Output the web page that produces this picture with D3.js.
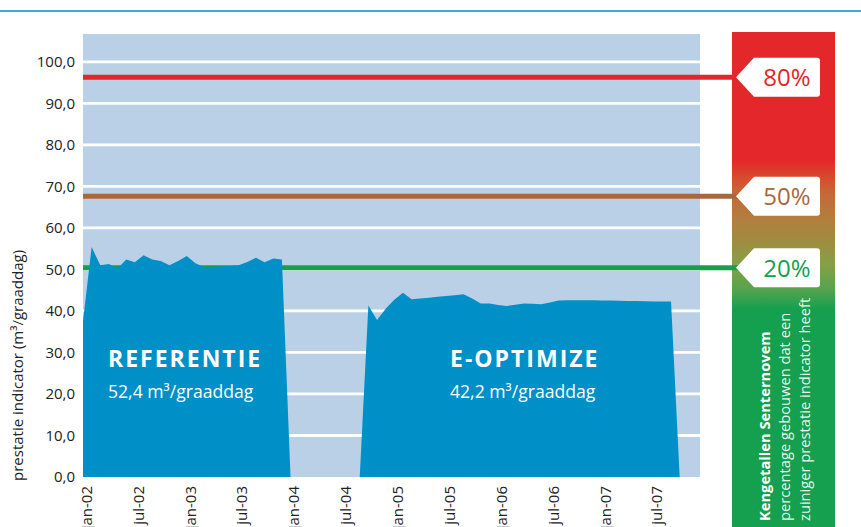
<!DOCTYPE html>
<html>
<head>
<meta charset="utf-8">
<script src="https://cdn.jsdelivr.net/npm/d3@7"></script>
<style>
  body { margin: 0; background: #fff; }
  svg { display: block; font-family: "Open Sans", sans-serif; }
</style>
</head>
<body>
<div id="container"></div>
<script>
const width = 861;
const height = 527;

// plot box
const plotLeft = 83, plotRight = 700, plotTop = 34, plotBottom = 477;

// x tick labels (every 6 months, month index from jan-02)
const tickMonths = [0, 6, 12, 18, 24, 30, 36, 42, 48, 54, 60, 66];
const tickLabels = ["jan-02", "jul-02", "jan-03", "jul-03", "jan-04", "jul-04",
  "jan-05", "jul-05", "jan-06", "jul-06", "jan-07", "jul-07"];

// y ticks
const yTicks = [0, 10, 20, 30, 40, 50, 60, 70, 80, 90, 100];

// REFERENTIE series, monthly from jan-02
const refStart = 0;
const refValues = [37.5, 55.4, 51.0, 51.3, 50.2, 52.4, 51.7, 53.4, 52.4, 52.0, 51.0, 52.0,
  53.2, 51.5, 50.6, 50.6, 50.7, 50.8, 51.0, 51.8, 52.8, 51.7, 52.6, 52.4, 0];

// E-OPTIMIZE series, monthly from sep-04
const optStart = 32;
const optValues = [0, 41.3, 37.8, 40.5, 42.7, 44.4, 42.8, 43.0, 43.2, 43.4, 43.6, 43.8,
  44.0, 43.0, 41.8, 41.8, 41.4, 41.2, 41.5, 41.8, 41.7, 41.6, 42.0, 42.5, 42.6, 42.6,
  42.6, 42.55, 42.5, 42.5, 42.45, 42.4, 42.4, 42.35, 42.3, 42.3, 42.3, 0];

// Senternovem benchmark lines
const benchLabels = ["80%", "50%", "20%"];
const benchValues = [96.3, 67.6, 50.4];
const benchColours = ["#e2262b", "#a8683e", "#16a04e"];

const svg = d3
  .select("#container")
  .append("svg")
  .attr("width", width)
  .attr("height", height);

const xScale = d3.scaleLinear().domain([0, 71.35]).range([plotLeft, plotRight]);
const yScale = d3.scaleLinear().domain([0, 106.7]).range([plotBottom, plotTop]);

// top rule
svg.append("rect")
  .attr("x", 0).attr("y", 10).attr("width", width).attr("height", 2)
  .attr("fill", "#3aa9de");

// plot background
svg.append("rect")
  .attr("x", plotLeft).attr("y", plotTop)
  .attr("width", plotRight - plotLeft).attr("height", plotBottom - plotTop)
  .attr("fill", "#b9d0e7");

// white grid lines
svg.selectAll(".grid")
  .data(yTicks.filter((d) => d > 0))
  .enter()
  .append("line")
  .attr("class", "grid")
  .attr("x1", plotLeft).attr("x2", plotRight)
  .attr("y1", (d) => yScale(d)).attr("y2", (d) => yScale(d))
  .attr("stroke", "#fff")
  .attr("stroke-width", 2.8);

// gradient panel
const defs = svg.append("defs");
const grad = defs.append("linearGradient")
  .attr("id", "panelGrad")
  .attr("x1", 0).attr("x2", 0).attr("y1", 0).attr("y2", 1);
[
  [0, "#e3272b"], [0.26, "#e3272b"], [0.3, "#d6502f"], [0.33, "#c36b39"],
  [0.38, "#b17f3d"], [0.42, "#a08b41"], [0.47, "#85a047"], [0.52, "#55a44d"],
  [0.56, "#14a04f"], [1, "#14a04f"],
].forEach(([o, c]) => grad.append("stop").attr("offset", o).attr("stop-color", c));

svg.append("rect")
  .attr("x", 732).attr("y", 32).attr("width", 103).attr("height", height - 32)
  .attr("fill", "url(#panelGrad)");

// benchmark lines
svg.selectAll(".bench")
  .data(benchValues)
  .enter()
  .append("line")
  .attr("class", "bench")
  .attr("x1", plotLeft).attr("x2", 745)
  .attr("y1", (d) => yScale(d)).attr("y2", (d) => yScale(d))
  .attr("stroke", (d, i) => benchColours[i])
  .attr("stroke-width", 5);

// areas
const area = d3.area()
  .x((d) => xScale(d.m))
  .y0(yScale(0))
  .y1((d) => yScale(d.v));

const refData = refValues.map((v, i) => ({ m: refStart + i, v }));
const optData = optValues.map((v, i) => ({ m: optStart + i, v }));

[refData, optData].forEach((data) => {
  svg.append("path").datum(data).attr("d", area).attr("fill", "#0090c8");
});

// area labels
const areaText = [
  { x: 108, name: "REFERENTIE", sub: "52,4 m³/graaddag" },
  { x: 450, name: "E-OPTIMIZE", sub: "42,2 m³/graaddag" },
];
areaText.forEach((t) => {
  svg.append("text")
    .attr("x", t.x).attr("y", 367)
    .attr("fill", "#fff")
    .attr("font-weight", "bold")
    .attr("font-size", 23)
    .attr("letter-spacing", 2)
    .text(t.name);
  svg.append("text")
    .attr("x", t.x).attr("y", 398)
    .attr("fill", "#fff")
    .attr("font-size", 17.6)
    .text(t.sub);
});

// tags
const tag = svg.selectAll(".tag")
  .data(benchValues)
  .enter()
  .append("g")
  .attr("class", "tag")
  .attr("transform", (d) => `translate(0, ${yScale(d)})`);

tag.append("path")
  .attr("d", "M736,0 L754,-19.5 L817,-19.5 Q820,-19.5 820,-16.5 L820,16.5 Q820,19.5 817,19.5 L754,19.5 Z")
  .attr("fill", "#fff");

tag.append("text")
  .attr("x", 787).attr("y", 9)
  .attr("text-anchor", "middle")
  .attr("font-size", 24)
  .attr("fill", (d, i) => benchColours[i])
  .text((d, i) => benchLabels[i]);

// panel caption
const caption = svg.append("g").attr("transform", "translate(0, 521) rotate(-90)");
const capLines = [
  { text: "Kengetallen Senternovem", bold: true },
  { text: "percentage gebouwen dat een", bold: false },
  { text: "zuiniger prestatie indicator heeft", bold: false },
];
capLines.forEach((l, i) => {
  caption.append("text")
    .attr("x", 0)
    .attr("y", 765 + i * 20)
    .attr("dy", "0.35em")
    .attr("font-size", 14.7)
    .attr("font-weight", l.bold ? "bold" : "normal")
    .attr("fill", "#fff")
    .attr("fill-opacity", l.bold ? 1 : 0.92)
    .text(l.text);
});

// axes
const yAxis = d3.axisLeft(yScale)
  .tickValues(yTicks)
  .tickSize(0)
  .tickPadding(8)
  .tickFormat((d) => d3.format(".1f")(d).replace(".", ","));

const gy = svg.append("g").attr("transform", `translate(${plotLeft},0)`).call(yAxis);
gy.select(".domain").remove();
gy.selectAll("text")
  .attr("font-family", "Open Sans, sans-serif")
  .attr("font-size", 15)
  .attr("fill", "#222");

const xAxis = d3.axisBottom(xScale)
  .tickValues(tickMonths)
  .tickSize(0)
  .tickFormat((d, i) => tickLabels[i]);

const gx = svg.append("g").attr("transform", `translate(0,${plotBottom})`).call(xAxis);
gx.select(".domain").remove();
gx.selectAll("text")
  .attr("font-family", "Open Sans, sans-serif")
  .attr("font-size", 15)
  .attr("fill", "#222")
  .attr("transform", "rotate(-90)")
  .attr("x", -9)
  .attr("y", 3)
  .attr("dy", "0.35em")
  .style("text-anchor", "end");

// y axis title
svg.append("text")
  .attr("transform", "translate(18, 481) rotate(-90)")
  .attr("dy", "0.35em")
  .attr("font-size", 15)
  .attr("fill", "#222")
  .text("prestatie indicator (m³/graaddag)");
</script>
</body>
</html>
